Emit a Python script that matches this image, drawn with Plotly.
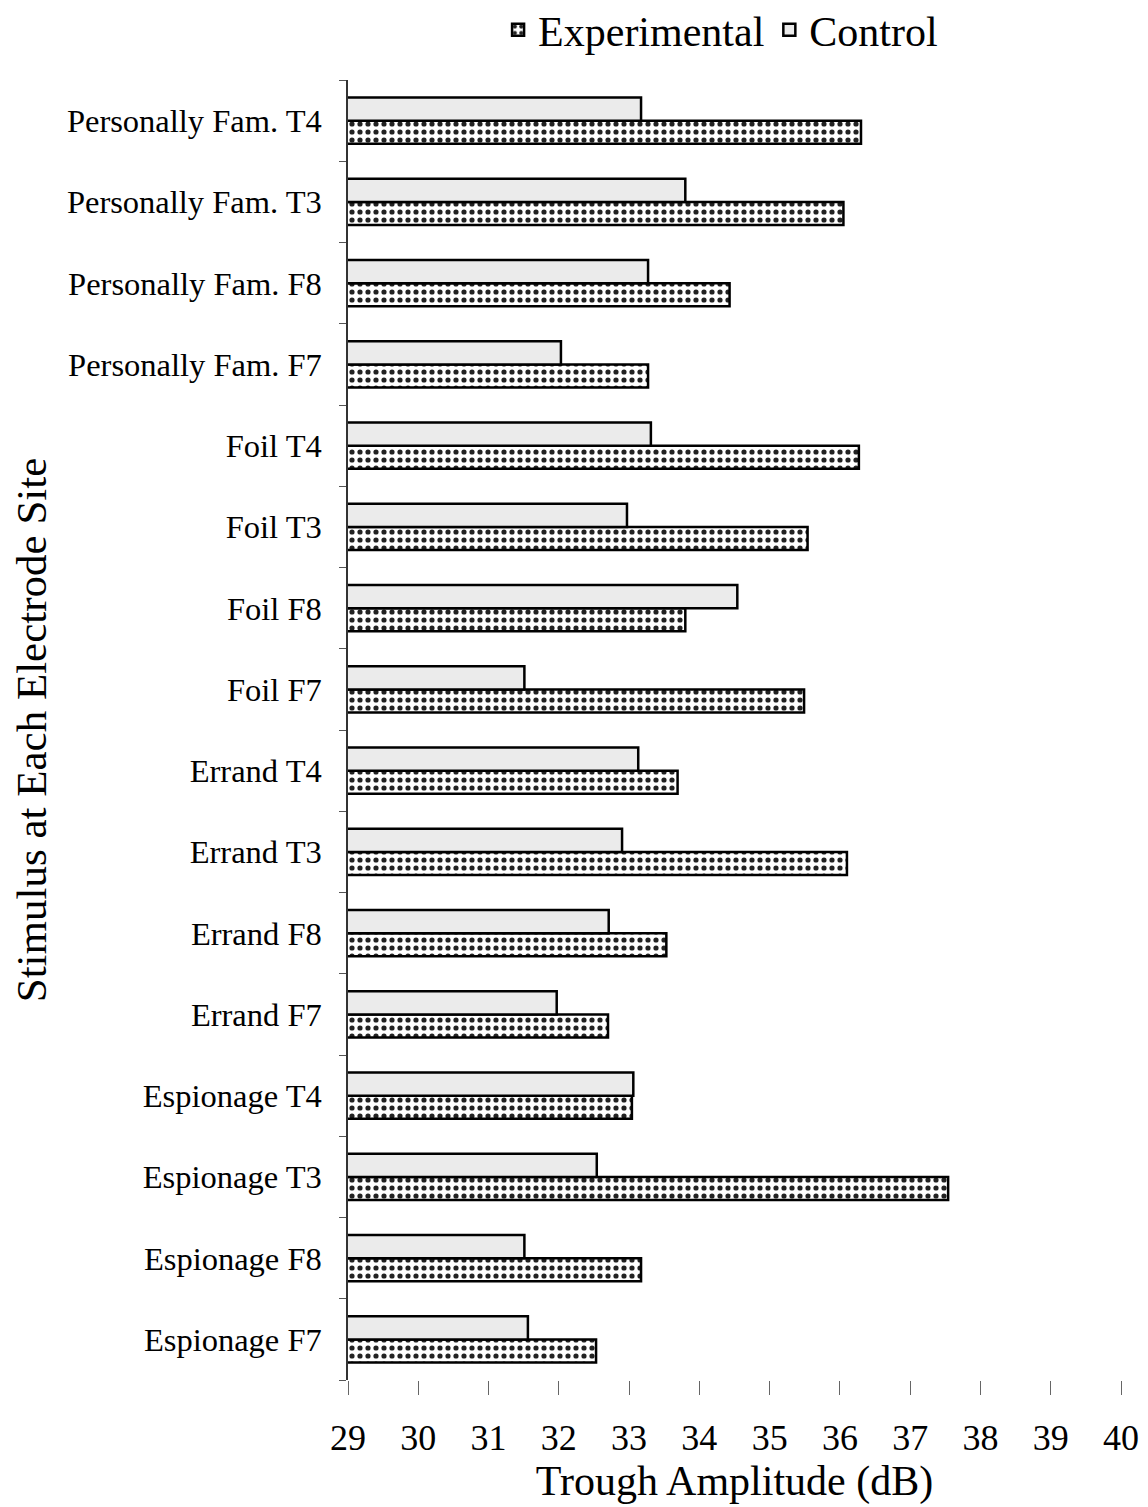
import plotly.graph_objects as go

categories = [
    "Personally Fam. T4", "Personally Fam. T3", "Personally Fam. F8", "Personally Fam. F7",
    "Foil T4", "Foil T3", "Foil F8", "Foil F7",
    "Errand T4", "Errand T3", "Errand F8", "Errand F7",
    "Espionage T4", "Espionage T3", "Espionage F8", "Espionage F7",
]
experimental = [36.3, 36.05, 34.43, 33.27, 36.27, 35.54, 33.8, 35.49,
                33.69, 36.1, 33.53, 32.7, 33.04, 37.54, 33.17, 32.53]
control = [33.17, 33.8, 33.27, 32.03, 33.31, 32.97, 34.54, 31.51,
           33.13, 32.9, 32.71, 31.97, 33.06, 32.54, 31.51, 31.56]
x_ticks = list(range(29, 41))

FONT = "Liberation Serif, Times New Roman, serif"

fig = go.Figure()
fig.add_trace(go.Bar(
    y=categories, x=experimental, orientation="h", name="Experimental",
    marker=dict(color="white", line=dict(color="black", width=2.5),
                pattern=dict(shape=".", fgcolor="#222222", bgcolor="white",
                             size=8, solidity=0.33, fillmode="replace")),
))
fig.add_trace(go.Bar(
    y=categories, x=control, orientation="h", name="Control",
    marker=dict(color="#ebebeb", line=dict(color="black", width=2.5)),
))

fig.update_layout(
    width=1140, height=1499,
    margin=dict(l=340, r=27, t=72, b=127, autoexpand=False),
    paper_bgcolor="white", plot_bgcolor="white",
    barmode="group", bargap=0.43, bargroupgap=0.0,
    font=dict(family=FONT, color="black"),
    showlegend=True,
    legend=dict(orientation="h", x=0.482, xanchor="center", y=1.0385, yanchor="middle",
                font=dict(size=42, family=FONT), traceorder="normal",
                itemwidth=30, bgcolor="rgba(0,0,0,0)"),
)
fig.update_xaxes(
    range=[29, 40], tickvals=x_ticks, ticktext=[str(t) for t in x_ticks],
    showgrid=False, zeroline=False, showline=False,
    ticks="outside", ticklen=14, tickcolor="#666666", tickwidth=1,
    ticklabelstandoff=12,
    tickfont=dict(size=36, family=FONT),
    title=dict(text="Trough Amplitude (dB)", font=dict(size=42, family=FONT), standoff=0),
)
fig.update_yaxes(
    categoryorder="array", categoryarray=list(reversed(categories)),
    showgrid=False, zeroline=False, showline=True, linecolor="#333333", linewidth=1.5,
    ticks="outside", tickson="boundaries", ticklen=7, tickcolor="#555555",
    ticklabelstandoff=18,
    tickfont=dict(size=32.5, family=FONT),
    title=dict(text="Stimulus at Each Electrode Site", font=dict(size=43, family=FONT), standoff=10),
)

fig.write_html("out.html")
